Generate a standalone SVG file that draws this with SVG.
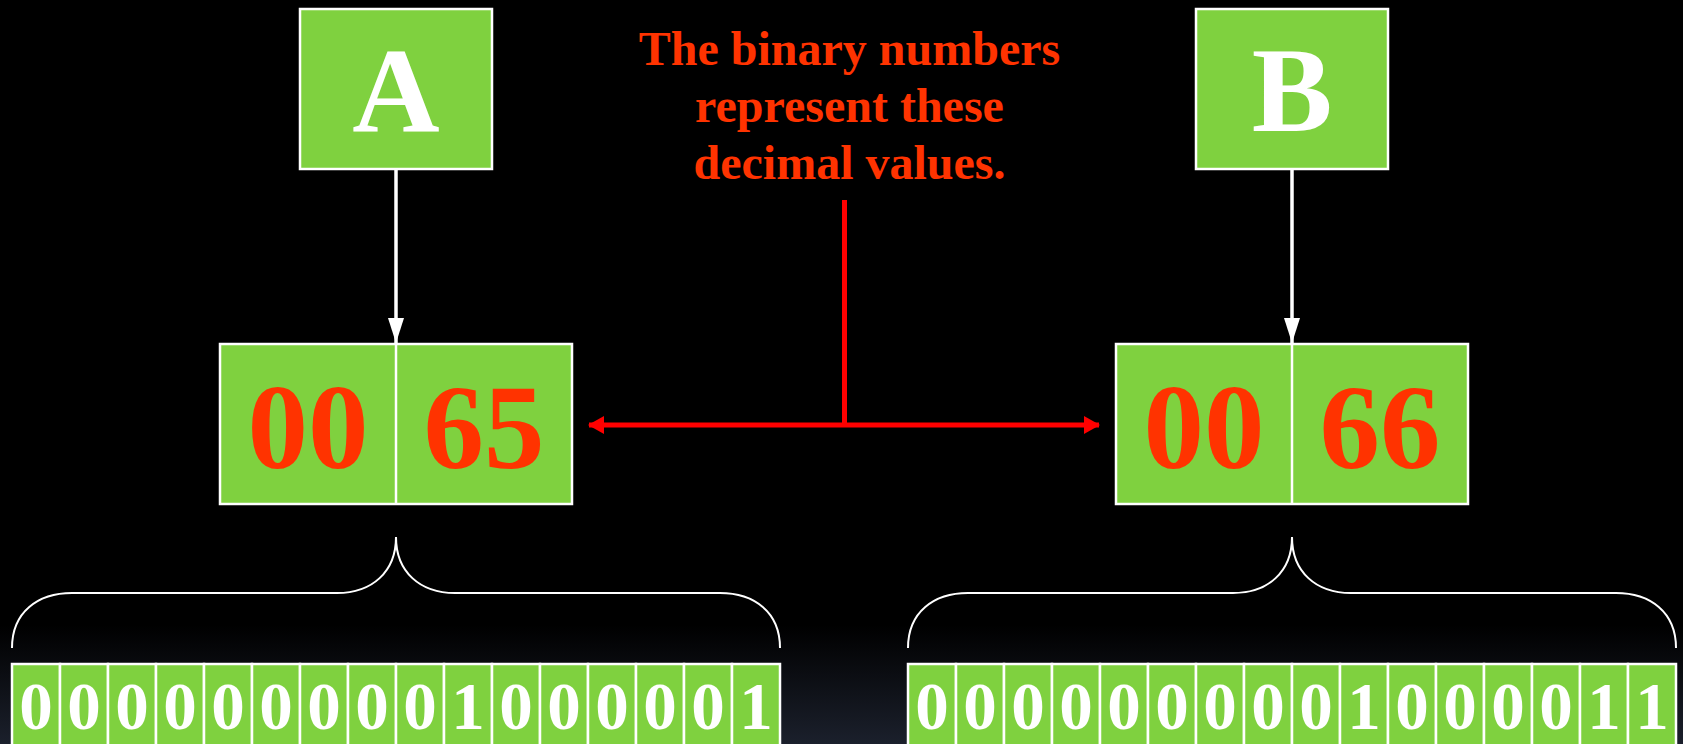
<svg xmlns="http://www.w3.org/2000/svg" width="1683" height="744" viewBox="0 0 1683 744">
  <defs>
    <linearGradient id="bg" x1="0" y1="0" x2="0" y2="1">
      <stop offset="0" stop-color="#000000"/>
      <stop offset="0.84" stop-color="#000000"/>
      <stop offset="1" stop-color="#1b202c"/>
    </linearGradient>
    <marker id="wArrow" markerUnits="userSpaceOnUse" markerWidth="26" markerHeight="16" viewBox="0 0 26 16" refX="25" refY="8" orient="auto-start-reverse">
      <path d="M0,0 L25,8 L0,16 Z" fill="#ffffff"/>
    </marker>
    <marker id="rArrow" markerUnits="userSpaceOnUse" markerWidth="16" markerHeight="18" viewBox="0 0 16 18" refX="15" refY="9" orient="auto-start-reverse">
      <path d="M0,0 L16,9 L0,18 Z" fill="#ff0000"/>
    </marker>
  </defs>
  <style>
    .box { fill: #7fd13f; stroke: #ffffff; stroke-width: 2.5; }
    .letter { font-family: "Liberation Serif", "Times New Roman", serif; font-weight: bold; font-size: 121px; fill: #ffffff; text-anchor: middle; }
    .num { font-family: "Liberation Serif", "Times New Roman", serif; font-weight: bold; font-size: 121px; fill: #ff3300; text-anchor: middle; }
    .bit { font-family: "Liberation Serif", "Times New Roman", serif; font-weight: bold; font-size: 67px; fill: #ffffff; text-anchor: middle; }
    .note { font-family: "Liberation Serif", "Times New Roman", serif; font-weight: bold; font-size: 48px; fill: #ff3300; text-anchor: middle; }
    .brace { fill: none; stroke: #ffffff; stroke-width: 2; }
    .wline { stroke: #ffffff; stroke-width: 3.5; fill: none; }
    .rline { stroke: #ff0000; stroke-width: 5; fill: none; }
  </style>
  <rect x="0" y="0" width="1683" height="744" fill="url(#bg)"/>

  <g id="nodeA">
    <rect class="box" x="300" y="9" width="192" height="160"/>
    <text class="letter" x="396" y="131">A</text>
  </g>
  <g id="nodeB">
    <rect class="box" x="1196" y="9" width="192" height="160"/>
    <text class="letter" x="1292" y="131">B</text>
  </g>

  <g id="note">
    <text class="note" x="849.5" y="65">The binary numbers</text>
    <text class="note" x="849.5" y="122">represent these</text>
    <text class="note" x="849.5" y="179">decimal values.</text>
  </g>

  <g id="valueA">
    <rect class="box" x="220" y="344" width="352" height="160"/>
    <line x1="396" y1="344" x2="396" y2="504" stroke="#ffffff" stroke-width="2.5"/>
    <text class="num" x="308" y="468">00</text>
    <text class="num" x="484" y="468">65</text>
  </g>
  <g id="valueB">
    <rect class="box" x="1116" y="344" width="352" height="160"/>
    <line x1="1292" y1="344" x2="1292" y2="504" stroke="#ffffff" stroke-width="2.5"/>
    <text class="num" x="1204" y="468">00</text>
    <text class="num" x="1380" y="468">66</text>
  </g>

  <g id="bitsA">
    <rect class="box" x="12" y="664" width="48" height="90"/>
    <rect class="box" x="60" y="664" width="48" height="90"/>
    <rect class="box" x="108" y="664" width="48" height="90"/>
    <rect class="box" x="156" y="664" width="48" height="90"/>
    <rect class="box" x="204" y="664" width="48" height="90"/>
    <rect class="box" x="252" y="664" width="48" height="90"/>
    <rect class="box" x="300" y="664" width="48" height="90"/>
    <rect class="box" x="348" y="664" width="48" height="90"/>
    <rect class="box" x="396" y="664" width="48" height="90"/>
    <rect class="box" x="444" y="664" width="48" height="90"/>
    <rect class="box" x="492" y="664" width="48" height="90"/>
    <rect class="box" x="540" y="664" width="48" height="90"/>
    <rect class="box" x="588" y="664" width="48" height="90"/>
    <rect class="box" x="636" y="664" width="48" height="90"/>
    <rect class="box" x="684" y="664" width="48" height="90"/>
    <rect class="box" x="732" y="664" width="48" height="90"/>
    <text class="bit" x="36" y="729">0</text>
    <text class="bit" x="84" y="729">0</text>
    <text class="bit" x="132" y="729">0</text>
    <text class="bit" x="180" y="729">0</text>
    <text class="bit" x="228" y="729">0</text>
    <text class="bit" x="276" y="729">0</text>
    <text class="bit" x="324" y="729">0</text>
    <text class="bit" x="372" y="729">0</text>
    <text class="bit" x="420" y="729">0</text>
    <text class="bit" x="468" y="729">1</text>
    <text class="bit" x="516" y="729">0</text>
    <text class="bit" x="564" y="729">0</text>
    <text class="bit" x="612" y="729">0</text>
    <text class="bit" x="660" y="729">0</text>
    <text class="bit" x="708" y="729">0</text>
    <text class="bit" x="756" y="729">1</text>
  </g>
  <g id="bitsB">
    <rect class="box" x="908" y="664" width="48" height="90"/>
    <rect class="box" x="956" y="664" width="48" height="90"/>
    <rect class="box" x="1004" y="664" width="48" height="90"/>
    <rect class="box" x="1052" y="664" width="48" height="90"/>
    <rect class="box" x="1100" y="664" width="48" height="90"/>
    <rect class="box" x="1148" y="664" width="48" height="90"/>
    <rect class="box" x="1196" y="664" width="48" height="90"/>
    <rect class="box" x="1244" y="664" width="48" height="90"/>
    <rect class="box" x="1292" y="664" width="48" height="90"/>
    <rect class="box" x="1340" y="664" width="48" height="90"/>
    <rect class="box" x="1388" y="664" width="48" height="90"/>
    <rect class="box" x="1436" y="664" width="48" height="90"/>
    <rect class="box" x="1484" y="664" width="48" height="90"/>
    <rect class="box" x="1532" y="664" width="48" height="90"/>
    <rect class="box" x="1580" y="664" width="48" height="90"/>
    <rect class="box" x="1628" y="664" width="48" height="90"/>
    <text class="bit" x="932" y="729">0</text>
    <text class="bit" x="980" y="729">0</text>
    <text class="bit" x="1028" y="729">0</text>
    <text class="bit" x="1076" y="729">0</text>
    <text class="bit" x="1124" y="729">0</text>
    <text class="bit" x="1172" y="729">0</text>
    <text class="bit" x="1220" y="729">0</text>
    <text class="bit" x="1268" y="729">0</text>
    <text class="bit" x="1316" y="729">0</text>
    <text class="bit" x="1364" y="729">1</text>
    <text class="bit" x="1412" y="729">0</text>
    <text class="bit" x="1460" y="729">0</text>
    <text class="bit" x="1508" y="729">0</text>
    <text class="bit" x="1556" y="729">0</text>
    <text class="bit" x="1604" y="729">1</text>
    <text class="bit" x="1652" y="729">1</text>
  </g>

  <g id="connectors">
    <line class="wline" x1="396" y1="169" x2="396" y2="343" marker-end="url(#wArrow)"/>
    <line class="wline" x1="1292" y1="169" x2="1292" y2="343" marker-end="url(#wArrow)"/>
    <line class="rline" x1="844.5" y1="200" x2="844.5" y2="425"/>
    <line class="rline" x1="589" y1="425" x2="1099" y2="425" marker-start="url(#rArrow)" marker-end="url(#rArrow)"/>
    <path class="brace" d="M12,648 C12,612 38,593 72,593 L337,593 C372,593 396,572 396,537 C396,572 420,593 455,593 L720,593 C754,593 780,612 780,648"/>
    <path class="brace" d="M908,648 C908,612 934,593 968,593 L1233,593 C1268,593 1292,572 1292,537 C1292,572 1316,593 1351,593 L1616,593 C1650,593 1676,612 1676,648"/>
  </g>
</svg>
